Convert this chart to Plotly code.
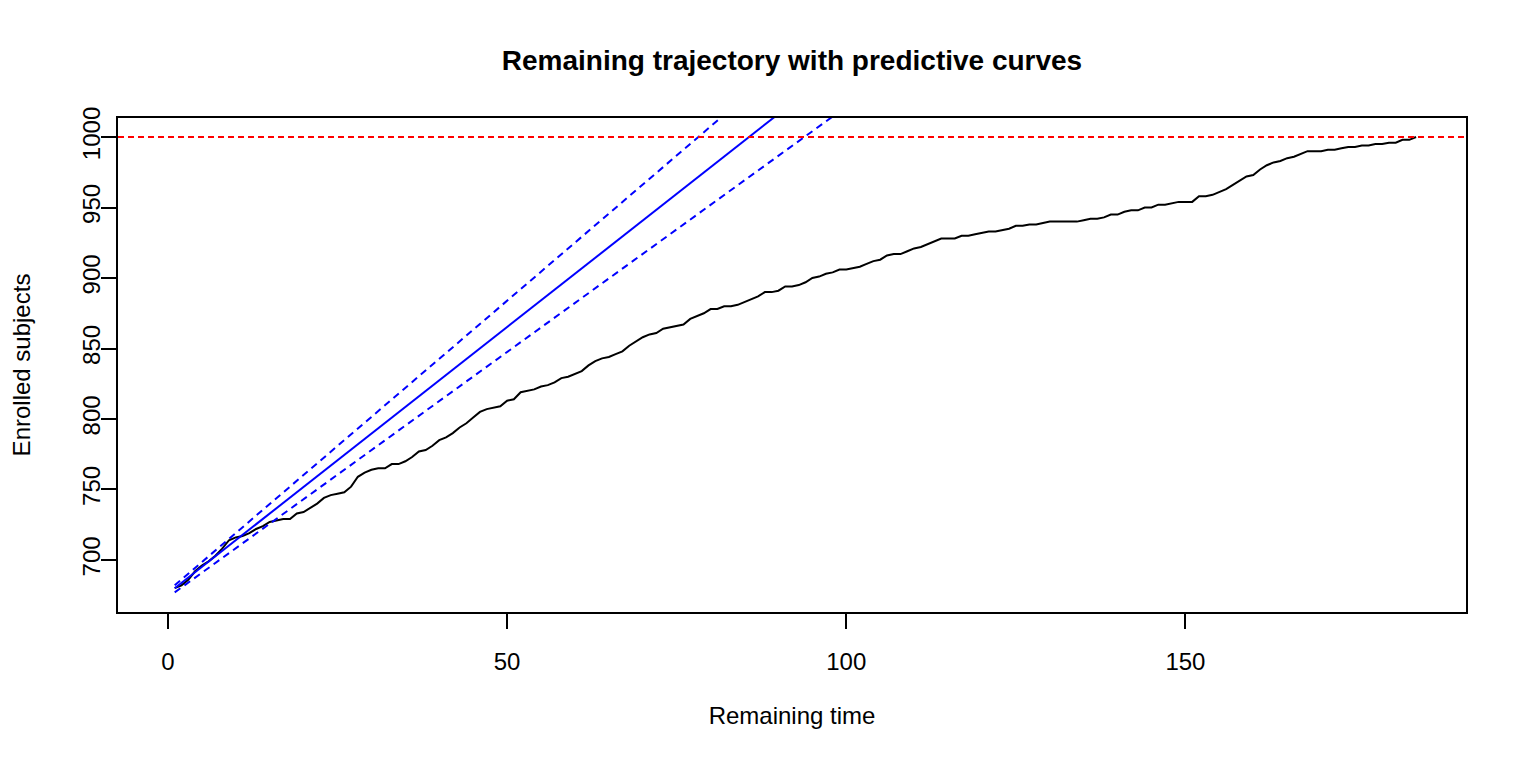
import plotly.graph_objects as go

# Observed remaining trajectory (time 1..184)
time_obs = list(range(1, 185))
enrolled = [
    680, 682, 686, 692, 696, 699, 703, 708, 714, 716,
    717, 719, 722, 724, 727, 728, 729, 729, 733, 734,
    737, 740, 744, 746, 747, 748, 752, 759, 762, 764,
    765, 765, 768, 768, 770, 773, 777, 778, 781, 785,
    787, 790, 794, 797, 801, 805, 807, 808, 809, 813,
    814, 819, 820, 821, 823, 824, 826, 829, 830, 832,
    834, 838, 841, 843, 844, 846, 848, 852, 855, 858,
    860, 861, 864, 865, 866, 867, 871, 873, 875, 878,
    878, 880, 880, 881, 883, 885, 887, 890, 890, 891,
    894, 894, 895, 897, 900, 901, 903, 904, 906, 906,
    907, 908, 910, 912, 913, 916, 917, 917, 919, 921,
    922, 924, 926, 928, 928, 928, 930, 930, 931, 932,
    933, 933, 934, 935, 937, 937, 938, 938, 939, 940,
    940, 940, 940, 940, 941, 942, 942, 943, 945, 945,
    947, 948, 948, 950, 950, 952, 952, 953, 954, 954,
    954, 958, 958, 959, 961, 963, 966, 969, 972, 973,
    977, 980, 982, 983, 985, 986, 988, 990, 990, 990,
    991, 991, 992, 993, 993, 994, 994, 995, 995, 996,
    996, 998, 998, 1000,
]

# Predictive curves (straight lines, clipped at the top of the plot)
time_pred = [1, 100]
pred_mean = [680, 1054.2]
pred_upper = [682, 1089.9]
pred_lower = [677, 1021.5]

target = 1000

x_ticks = [0, 50, 100, 150]
y_ticks = [700, 750, 800, 850, 900, 950, 1000]

FONT = "Liberation Sans, Arial, Helvetica, sans-serif"
FS = 24

fig = go.Figure()

fig.add_trace(go.Scatter(x=time_obs, y=enrolled, mode="lines",
                         line=dict(color="black", width=2), showlegend=False))
fig.add_trace(go.Scatter(x=time_pred, y=pred_mean, mode="lines",
                         line=dict(color="blue", width=2), showlegend=False))
fig.add_trace(go.Scatter(x=time_pred, y=pred_upper, mode="lines",
                         line=dict(color="blue", width=2, dash="7px,5px"), showlegend=False))
fig.add_trace(go.Scatter(x=time_pred, y=pred_lower, mode="lines",
                         line=dict(color="blue", width=2, dash="7px,5px"), showlegend=False))

fig.add_shape(type="line", xref="paper", x0=0, x1=1, yref="y", y0=target, y1=target,
              line=dict(color="red", width=2, dash="6px,4px"))

W, H = 1518, 755
fig.update_layout(
    width=W, height=H,
    margin=dict(l=110, r=60, t=110, b=151),
    paper_bgcolor="white", plot_bgcolor="white",
    font=dict(family=FONT, size=FS, color="black"),
    title=dict(text="<b>Remaining trajectory with predictive curves</b>",
               xref="paper", x=0.5, xanchor="center", y=1 - 52 / H, yanchor="middle",
               font=dict(size=28, family=FONT, color="black")),
    showlegend=False,
)

fig.update_xaxes(
    range=[-7.36, 191.36], tickvals=x_ticks, ticktext=[str(v) for v in x_ticks],
    automargin=False,
    showgrid=False, zeroline=False, showline=True, linecolor="black", linewidth=1.5,
    mirror=True, ticks="outside", ticklen=15, tickwidth=1.5, tickcolor="black",
    tickfont=dict(size=FS, family=FONT), ticklabelstandoff=12,
    title=dict(text="Remaining time", standoff=34, font=dict(size=FS, family=FONT)),
)
fig.update_yaxes(
    range=[663.1, 1013.5], tickvals=y_ticks, ticktext=[str(v) for v in y_ticks],
    tickangle=-90, automargin=False,
    showgrid=False, zeroline=False, showline=True, linecolor="black", linewidth=1.5,
    mirror=True, ticks="outside", ticklen=15, tickwidth=1.5, tickcolor="black",
    tickfont=dict(size=FS, family=FONT), ticklabelstandoff=-8,
    title=dict(text="Enrolled subjects", standoff=51, font=dict(size=FS, family=FONT)),
)

fig.write_html("out.html")
